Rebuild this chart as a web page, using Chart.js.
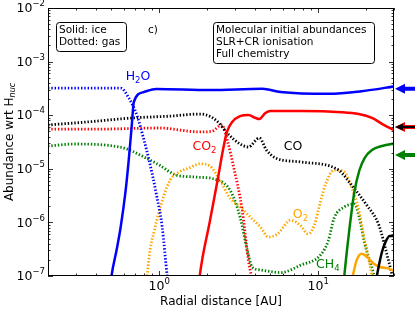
<!DOCTYPE html>
<html>
<head>
<meta charset="utf-8">
<script src="https://cdn.jsdelivr.net/npm/chart.js@4.4.0/dist/chart.umd.min.js"></script>
<style>
  html, body { margin: 0; padding: 0; background: #fff; }
</style>
</head>
<body>
<canvas id="grafico" width="415" height="310"></canvas>
<script>
// Datos: radio [AU] y abundancia relativa a H_nuc

// H2O
const h2oGasR  = [0.2, 0.573, 0.644, 0.724, 0.803, 0.864, 0.957, 1.045, 1.124, 1.16];
const h2oGasAb = [3.2e-4, 3.2e-4, 2.1e-4, 1.01e-4, 3.44e-5, 1.46e-5, 3.54e-6, 8.2e-7, 1e-7, 5e-8];
const h2oHieloR  = [0.49, 0.502, 0.54, 0.573, 0.616, 0.644, 0.673, 0.693, 0.803, 0.957, 2.08, 4.46, 5.8, 11.6, 18.8, 31];
const h2oHieloAb = [5e-8, 1e-7, 3.05e-7, 8.2e-7, 4.0e-6, 1.46e-5, 6.56e-5, 1.76e-4, 2.71e-4, 3.08e-4, 2.95e-4, 3.1e-4, 2.71e-4, 2.5e-4, 2.8e-4, 3.5e-4];

// CO
const coGasR  = [0.2, 0.358, 0.673, 1.158, 1.8, 2.08, 2.34, 2.67, 3.23, 3.64, 4.27, 4.73, 5.4, 7.79, 13.4, 16.2, 20.2, 24.1, 27.1, 29.2, 30.5];
const coGasAb = [6.56e-5, 7.5e-5, 8.87e-5, 9.6e-5, 1.05e-4, 9.6e-5, 7.5e-5, 4.7e-5, 2.9e-5, 2.55e-5, 3.76e-5, 2.24e-5, 1.59e-5, 1.34e-5, 9.5e-6, 5.0e-6, 2.1e-6, 8.9e-7, 2.5e-7, 1e-7, 4.4e-8];
const coHieloR  = [22.5, 23.4, 25.2, 26.7, 28.2, 31];
const coHieloAb = [5e-8, 1e-7, 2.8e-7, 4.5e-7, 5.6e-7, 5.6e-7];

// CO2
const co2GasR  = [0.2, 0.415, 1.0, 1.8, 2.14, 2.48, 2.71, 2.92, 3.33, 3.64, 3.8, 3.95];
const co2GasAb = [5.5e-5, 5.5e-5, 5.77e-5, 4.87e-5, 5.0e-5, 6.56e-5, 3.03e-5, 1.18e-5, 1.7e-6, 2e-7, 1e-7, 5e-8];
const co2HieloR  = [1.76, 1.8, 2.08, 2.34, 2.52, 2.67, 2.88, 3.23, 3.64, 4.03, 4.27, 4.66, 5.02, 7.79, 14, 18, 21.8, 25.2, 31];
const co2HieloAb = [5e-8, 1e-7, 1.02e-6, 6.5e-6, 2.24e-5, 4.87e-5, 7.5e-5, 9.6e-5, 1.01e-4, 8.9e-5, 8.5e-5, 1.1e-4, 1.2e-4, 1.2e-4, 1.14e-4, 1.05e-4, 8.9e-5, 6.9e-5, 5e-5];

// CH4
const ch4GasR  = [0.2, 0.296, 0.581, 0.673, 0.827, 1.0, 1.28, 1.72, 2.31, 2.79, 3.23, 3.58, 3.85, 4.33, 5.8, 7.79, 10.4, 11.6, 12.6, 14.6, 16.9, 18.2, 19.6, 21, 22.4, 23];
const ch4GasAb = [2.66e-5, 2.9e-5, 2.5e-5, 2.15e-5, 1.59e-5, 1.18e-5, 7.65e-6, 7.0e-6, 6.2e-6, 4.0e-6, 1.26e-6, 3.05e-7, 1.47e-7, 1.3e-7, 1.16e-7, 1.6e-7, 2.5e-7, 4.6e-7, 1.2e-6, 1.94e-6, 2.2e-6, 1.2e-6, 4.1e-7, 2e-7, 1e-7, 5e-8];
const ch4HieloR  = [14.3, 14.6, 15.7, 16.9, 18.2, 19.6, 21.8, 25.2, 31];
const ch4HieloAb = [5e-8, 1e-7, 7.2e-7, 3.7e-6, 9.5e-6, 1.59e-5, 2.24e-5, 2.66e-5, 3.0e-5];

// O2
const o2GasR  = [0.82, 0.84, 0.876, 0.93, 1.0, 1.076, 1.175, 1.34, 1.55, 1.8, 2.08, 2.41, 2.79, 3.23, 3.74, 4.33, 4.87, 5.56, 6.73, 7.79, 8.63, 9.43, 10.4, 11.2, 12.6, 14.4, 16.2, 18, 19.4, 20.5, 21.8, 22.7];
const o2GasAb = [5e-8, 1e-7, 3.05e-7, 6.8e-7, 1.6e-6, 3.3e-6, 6.2e-6, 8.8e-6, 1.04e-5, 1.24e-5, 1.13e-5, 6.2e-6, 2.85e-6, 1.94e-6, 1.26e-6, 8.2e-7, 5.35e-7, 6.1e-7, 1.1e-6, 8.6e-7, 6.1e-7, 8.6e-7, 2.6e-6, 5.4e-6, 9.5e-6, 9.1e-6, 4.6e-6, 1.7e-6, 5.35e-7, 2.5e-7, 1e-7, 4.5e-8];
const o2HieloR  = [16, 16.5, 17.5, 18.8, 20.5, 22.4, 24.5, 27.1, 31];
const o2HieloAb = [6.8e-8, 1e-7, 2e-7, 2.6e-7, 2.2e-7, 1.7e-7, 1.47e-7, 1.4e-7, 1.2e-7];

// Flechas de abundancias iniciales (borde derecho)
const flechaAb = [3.1e-4, 6.0e-5, 6.0e-5, 1.8e-5];
const flechaColor = ['#0000ff', '#ff0000', '#000000', '#008000'];

// Marcas de los ejes
const marcasX = [0.2, 0.3, 0.4, 0.5, 0.6, 0.7, 0.8, 0.9, 1, 2, 3, 4, 5, 6, 7, 8, 9, 10, 20, 30];
const marcasY = [];
for (let k = -7; k < -2; k++) {
  for (let m = 1; m <= 9; m++) marcasY.push(m * Math.pow(10, k));
}
marcasY.push(1e-2);

// Etiquetas de especies: [partes de texto, radio, abundancia, color]
const etiquetas = [
  [[['H', 0], ['2', 1], ['O', 0]], 0.616, 5.2e-4, '#0000ff'],
  [[['CO', 0], ['2', 1]], 1.62, 2.55e-5, '#ff0000'],
  [[['CO', 0]], 6.07, 2.55e-5, '#000000'],
  [[['O', 0], ['2', 1]], 6.93, 1.37e-6, '#ffa500'],
  [[['CH', 0], ['4', 1]], 9.71, 1.6e-7, '#008000']
];

const fuente = '"DejaVu Sans", sans-serif';

function puntos(rs, abs) {
  return rs.map((r, i) => ({ x: r, y: abs[i] }));
}

function serie(rs, abs, color, punteada) {
  return {
    data: puntos(rs, abs),
    borderColor: color,
    borderWidth: punteada ? 2.8 : 2.5,
    borderDash: punteada ? [1.4, 1.9] : [],
    borderCapStyle: 'butt',
    pointRadius: 0,
    fill: false,
    cubicInterpolationMode: 'monotone'
  };
}

function esPotencia(v) {
  const l = Math.log10(v);
  return Math.abs(l - Math.round(l)) < 1e-9;
}

// Texto con subíndices
function textoSub(ctx, partes, x, y, color) {
  ctx.fillStyle = color;
  ctx.textBaseline = 'middle';
  ctx.textAlign = 'left';
  let cx = x;
  partes.forEach(([t, sub]) => {
    ctx.font = (sub ? '8.5px ' : '12.5px ') + fuente;
    ctx.fillText(t, cx, sub ? y + 4 : y);
    cx += ctx.measureText(t).width;
  });
}

// Potencia de diez con exponente
function potencia(ctx, exp, x, y, alinear) {
  ctx.textBaseline = 'middle';
  ctx.textAlign = 'left';
  ctx.font = '8.5px ' + fuente;
  const e = String(exp).replace('-', '\u2212');
  const wE = ctx.measureText(e).width;
  ctx.font = '12.5px ' + fuente;
  const wB = ctx.measureText('10').width;
  const total = wB + wE;
  let x0 = alinear === 'right' ? x - total : x - total / 2;
  ctx.fillStyle = '#000';
  ctx.fillText('10', x0, y + 1);
  ctx.font = '8.5px ' + fuente;
  ctx.fillText(e, x0 + wB, y - 4);
}

const dibujoExtra = {
  id: 'dibujoExtra',
  afterDatasetsDraw(chart) {
    const ctx = chart.ctx;
    const a = chart.chartArea;
    const sx = chart.scales.x, sy = chart.scales.y;
    ctx.save();

    // Etiquetas de especies
    etiquetas.forEach(([partes, r, ab, color]) => {
      textoSub(ctx, partes, sx.getPixelForValue(r), sy.getPixelForValue(ab), color);
    });

    // Marco
    ctx.strokeStyle = '#000';
    ctx.lineWidth = 1;
    ctx.strokeRect(a.left + 0.5, a.top + 0.5, a.right - a.left - 1, a.bottom - a.top - 1);

    // Marcas hacia dentro
    ctx.lineWidth = 0.8;
    ctx.beginPath();
    sx.ticks.forEach(t => {
      const px = Math.round(sx.getPixelForValue(t.value)) + 0.5;
      const l = esPotencia(t.value) ? 5 : 2.5;
      ctx.moveTo(px, a.bottom); ctx.lineTo(px, a.bottom - l);
      ctx.moveTo(px, a.top); ctx.lineTo(px, a.top + l);
    });
    sy.ticks.forEach(t => {
      const py = Math.round(sy.getPixelForValue(t.value)) + 0.5;
      const l = esPotencia(t.value) ? 5 : 2.5;
      ctx.moveTo(a.left, py); ctx.lineTo(a.left + l, py);
      ctx.moveTo(a.right, py); ctx.lineTo(a.right - l, py);
    });
    ctx.stroke();

    // Etiquetas de las marcas
    sx.ticks.forEach(t => {
      if (esPotencia(t.value)) potencia(ctx, Math.round(Math.log10(t.value)), sx.getPixelForValue(t.value), a.bottom + 10, 'center');
    });
    sy.ticks.forEach(t => {
      if (esPotencia(t.value)) potencia(ctx, Math.round(Math.log10(t.value)), a.left - 3, sy.getPixelForValue(t.value), 'right');
    });

    // Títulos de los ejes
    ctx.fillStyle = '#000';
    ctx.font = '12px ' + fuente;
    ctx.textAlign = 'center';
    ctx.textBaseline = 'middle';
    ctx.fillText('Radial distance [AU]', (a.left + a.right) / 2, 302);

    ctx.save();
    ctx.translate(10, (a.top + a.bottom) / 2);
    ctx.rotate(-Math.PI / 2);
    ctx.font = '12px ' + fuente;
    const t1 = 'Abundance wrt H';
    const w1 = ctx.measureText(t1).width;
    ctx.font = 'italic 8px ' + fuente;
    const w2 = ctx.measureText('nuc').width;
    let x0 = -(w1 + w2) / 2;
    ctx.textAlign = 'left';
    ctx.font = '12px ' + fuente;
    ctx.fillText(t1, x0, 0);
    ctx.font = 'italic 8px ' + fuente;
    ctx.fillText('nuc', x0 + w1, 3);
    ctx.restore();

    // Cajas de texto
    function caja(x, y, w, h, lineas) {
      ctx.fillStyle = '#fff';
      ctx.strokeStyle = '#000';
      ctx.lineWidth = 1;
      ctx.beginPath();
      ctx.roundRect(x + 0.5, y + 0.5, w, h, 3);
      ctx.fill();
      ctx.stroke();
      ctx.fillStyle = '#000';
      ctx.font = '10.5px ' + fuente;
      ctx.textAlign = 'left';
      ctx.textBaseline = 'middle';
      lineas.forEach((l, i) => ctx.fillText(l, x + 3, y + 8 + i * 12));
    }
    caja(56, 22, 70, 29, ['Solid: ice', 'Dotted: gas']);
    caja(213, 22, 161, 41, ['Molecular initial abundances', 'SLR+CR ionisation', 'Full chemistry']);
    ctx.font = '10.5px ' + fuente;
    ctx.fillStyle = '#000';
    ctx.fillText('c)', 148, 30);

    // Flechas
    flechaAb.forEach((ab, i) => {
      const y = sy.getPixelForValue(ab);
      const fina = flechaColor[i] === '#000000';
      const g = fina ? 1 : 2;
      const cab = fina ? 3.5 : 5;
      const largo = fina ? 8 : 10;
      const xt = a.right + 1;
      ctx.fillStyle = flechaColor[i];
      ctx.beginPath();
      ctx.moveTo(xt, y);
      ctx.lineTo(xt + largo, y - cab);
      ctx.lineTo(xt + largo, y - g);
      ctx.lineTo(415, y - g);
      ctx.lineTo(415, y + g);
      ctx.lineTo(xt + largo, y + g);
      ctx.lineTo(xt + largo, y + cab);
      ctx.closePath();
      ctx.fill();
    });

    ctx.restore();
  }
};

new Chart(document.getElementById('grafico'), {
  type: 'line',
  data: {
    datasets: [
      serie(h2oHieloR, h2oHieloAb, '#0000ff', false),
      serie(co2HieloR, co2HieloAb, '#ff0000', false),
      serie(coHieloR, coHieloAb, '#000000', false),
      serie(ch4HieloR, ch4HieloAb, '#008000', false),
      serie(o2HieloR, o2HieloAb, '#ffa500', false),
      serie(h2oGasR, h2oGasAb, '#0000ff', true),
      serie(coGasR, coGasAb, '#000000', true),
      serie(co2GasR, co2GasAb, '#ff0000', true),
      serie(o2GasR, o2GasAb, '#ffa500', true),
      serie(ch4GasR, ch4GasAb, '#008000', true)
    ]
  },
  options: {
    responsive: false,
    animation: false,
    layout: { padding: { top: 8, right: 21, left: 0, bottom: 0 } },
    plugins: { legend: { display: false }, tooltip: { enabled: false } },
    scales: {
      x: {
        type: 'logarithmic',
        min: 0.2,
        max: 30,
        grid: { display: false, drawTicks: false },
        border: { display: false },
        ticks: { display: false, autoSkip: false },
        afterBuildTicks: (s) => { s.ticks = marcasX.map(v => ({ value: v })); },
        afterFit: (s) => { s.height = 34; }
      },
      y: {
        type: 'logarithmic',
        min: 1e-7,
        max: 1e-2,
        grid: { display: false, drawTicks: false },
        border: { display: false },
        ticks: { display: false, autoSkip: false },
        afterBuildTicks: (s) => { s.ticks = marcasY.map(v => ({ value: v })); },
        afterFit: (s) => { s.width = 48; }
      }
    }
  },
  plugins: [dibujoExtra]
});
</script>
</body>
</html>
